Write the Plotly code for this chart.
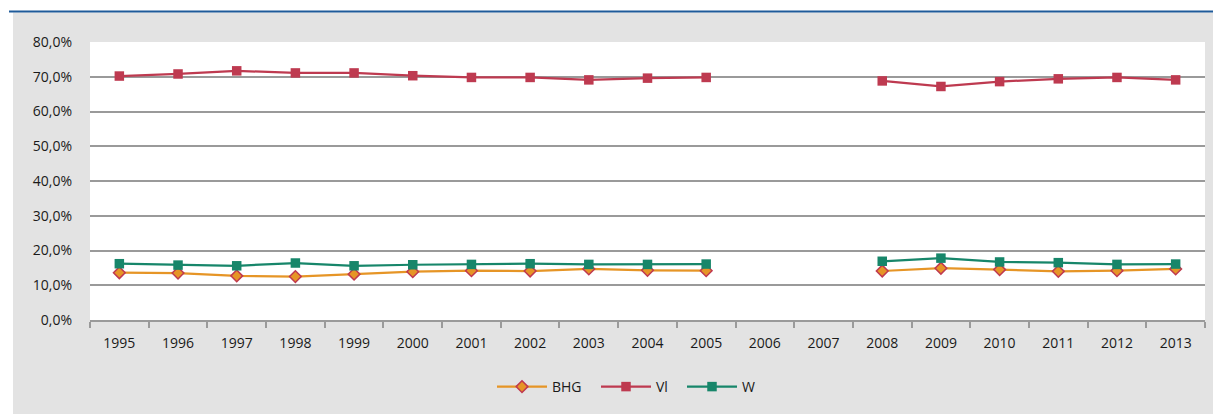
import plotly.graph_objects as go

years = [str(y) for y in range(1995, 2014)]
bhg = [13.6, 13.5, 12.7, 12.5, 13.2, 13.9, 14.2, 14.1, 14.7, 14.3, 14.2, None, None, 14.1, 14.9, 14.5, 14.0, 14.2, 14.7]
vl = [70.2, 70.8, 71.7, 71.1, 71.1, 70.3, 69.8, 69.8, 69.1, 69.6, 69.8, None, None, 68.8, 67.2, 68.6, 69.4, 69.8, 69.1]
w = [16.2, 15.8, 15.6, 16.4, 15.6, 15.9, 16.0, 16.2, 16.0, 16.0, 16.1, None, None, 16.9, 17.8, 16.7, 16.5, 16.0, 16.1]
y_ticks = [0, 10, 20, 30, 40, 50, 60, 70, 80]
y_labels = [f"{v:.1f}".replace(".", ",") + "%" for v in y_ticks]

fig = go.Figure()
fig.add_trace(go.Scatter(x=years, y=bhg, name="BHG", mode="lines+markers", legend="legend",
                         line=dict(color="#E69526", width=2.25),
                         marker=dict(symbol="diamond", size=9, color="#E69526",
                                     line=dict(color="#C0394F", width=1.5))))
fig.add_trace(go.Scatter(x=years, y=vl, name="Vl", mode="lines+markers", legend="legend2",
                         line=dict(color="#BE3A50", width=2.25),
                         marker=dict(symbol="square", size=9.5, color="#BE3A50")))
fig.add_trace(go.Scatter(x=years, y=w, name="W", mode="lines+markers", legend="legend3",
                         line=dict(color="#17866A", width=2.25),
                         marker=dict(symbol="square", size=9.5, color="#17866A")))

OFF = 8  # page body margin
W_, H_ = 1221 - OFF, 414 - OFF
L, T = 90 - OFF, 42 - OFF
R = W_ - (1205 - OFF)
B = H_ - (320 - OFF)
pw = W_ - L - R
ph = H_ - T - B

def px(x):  # screen x -> paper
    return (x - OFF - L) / pw

def py(y):  # screen y -> paper
    return (H_ - B - (y - OFF)) / ph

# white strips outside the grey panel (top and left)
fig.add_shape(type="rect", xref="paper", yref="paper", layer="below",
              x0=px(-5), x1=px(1230), y0=py(12.5), y1=py(-5),
              fillcolor="white", line=dict(width=0))
fig.add_shape(type="rect", xref="paper", yref="paper", layer="below",
              x0=px(-5), x1=px(13), y0=py(420), y1=py(-5),
              fillcolor="white", line=dict(width=0))
fig.add_shape(type="line", xref="paper", yref="paper",
              x0=px(9), x1=px(1225), y0=py(11.5), y1=py(11.5),
              line=dict(color="#1F5B9A", width=2))

def leg(xs):
    return dict(orientation="h", x=px(xs), xanchor="left", y=py(387), yanchor="middle",
                bgcolor="rgba(0,0,0,0)", font=dict(size=14), itemwidth=50)

fig.update_layout(
    width=W_, height=H_,
    margin=dict(l=L, r=R, t=T, b=B, autoexpand=False),
    paper_bgcolor="#E3E3E3", plot_bgcolor="white",
    font=dict(family="Open Sans", size=14, color="#1a1a1a"),
    showlegend=True,
    legend=leg(497 - 5),
    legend2=leg(601 - 5),
    legend3=leg(687 - 5),
)
fig.update_xaxes(type="category", showgrid=False, showline=True, linecolor="#9A9A9A",
                 linewidth=2, ticks="outside", tickson="boundaries", ticklen=6,
                 tickcolor="#9A9A9A", tickwidth=1.5, tickfont=dict(size=14),
                 ticklabelstandoff=9, range=[-0.5, 18.5], automargin=False)
fig.update_yaxes(range=[0, 80], tickvals=y_ticks, ticktext=y_labels,
                 showgrid=True, gridcolor="#9A9A9A", gridwidth=2, zeroline=False,
                 showline=False, ticks="", tickfont=dict(size=14),
                 ticklabelstandoff=17, automargin=False)

fig.write_html("out.html")
